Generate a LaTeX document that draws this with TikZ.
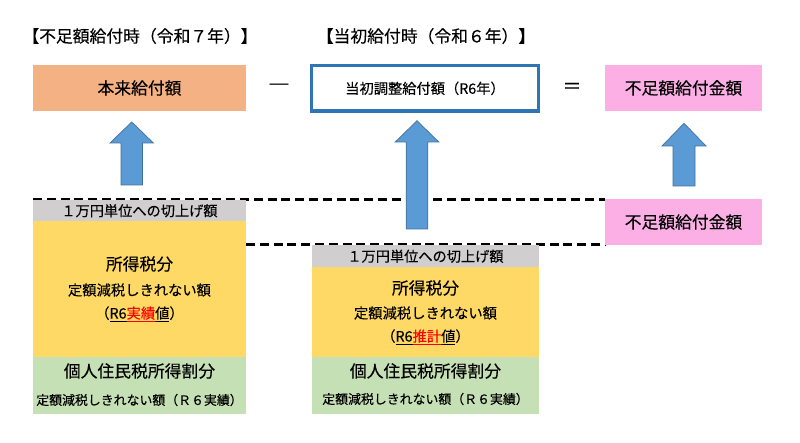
\documentclass[tikz,border=0pt]{standalone}
\usepackage{fontspec}
\setmainfont{Noto Sans CJK JP}[BoldFont=*,BoldFeatures={FakeBold=0.2}]
\definecolor{cOrange}{HTML}{F4B183}
\definecolor{cPink}{HTML}{FBAFE4}
\definecolor{cBlue}{HTML}{2E75B6}
\definecolor{cArrow}{HTML}{5B9BD5}
\definecolor{cArrowEdge}{HTML}{41719C}
\definecolor{cGray}{HTML}{D0CECE}
\definecolor{cYellow}{HTML}{FFD966}
\definecolor{cGreen}{HTML}{C5E0B4}
\newcommand{\fs}[1]{\fontsize{#1}{#1}\selectfont}
\newcommand{\myul}[1]{$\underline{\hbox{\vphantom{実}#1}}$}
\tikzset{
  x=1pt,y=-1pt,
  every node/.append style={font=\bfseries},
  boxshape/.style={draw=none,inner sep=0,outer sep=0,anchor=north west,align=center,text=black},
  txt/.style={inner sep=0,outer sep=0,text=black,align=center},
  dashline/.style={draw=black,line width=2.5pt,dash pattern=on 9pt off 4.8pt},
  blockarrow/.style={fill=cArrow,draw=cArrowEdge,line width=.7pt,line join=miter},
}
\newcommand{\blockup}[6]{% cx, tip, headbase, bottom, halfhead, halfshaft
  \path[blockarrow] (#1,#2) -- (#1+#5,#3) -- (#1+#6,#3) -- (#1+#6,#4) -- (#1-#6,#4) -- (#1-#6,#3) -- (#1-#5,#3) -- cycle;}
\begin{document}
\begin{tikzpicture}
\useasboundingbox (0,0) rectangle (800,443);
\fill[white] (0,0) rectangle (800,443);
% headings
\node[txt] (h1) at (140,36) {\fs{16.8}【不足額給付時（令和７年）】};
\node[txt] (h2) at (426,36) {\fs{16.8}【当初給付時（令和６年）】};
% top row
\node[boxshape,fill=cOrange,minimum width=213pt,minimum height=46pt] (base) at (33,65) {\fs{16.8}本来給付額};
\node[boxshape,fill=white,draw=cBlue,line width=3.3pt,minimum width=226.6pt,minimum height=45.3pt] (init) at (311.7,65.7) {\fs{14.25}当初調整給付額（R6年）};
\node[boxshape,fill=cPink,minimum width=157pt,minimum height=46pt] (short) at (605,65) {\fs{16.8}不足額給付金額};
\node[txt] (minus) at (279,88) {\fs{22}―};
\node[txt] (eq) at (572,88) {\fs{19}＝};
% dashed lines
\coordinate (d1a) at (33,199.3); \coordinate (d1b) at (605,199.3);
\coordinate (d2a) at (246,244.3); \coordinate (d2b) at (605,244.3);
\draw[dashline] (d1a) -- (d1b);
\draw[dashline] (d2a) -- (d2b);
% left stack
\node[boxshape,fill=cGray,minimum width=213pt,minimum height=20.5pt] (lg) at (33,200.5) {\fs{14.2}１万円単位への切上げ額};
\node[boxshape,fill=cYellow,minimum width=213pt,minimum height=136pt] (ly) at (33,221) {};
\node[txt] (ly1) at (139.5,264) {\fs{16.8}所得税分};
\node[txt] (ly2) at (139.5,290) {\fs{14.3}定額減税しきれない額};
\node[txt] (ly3) at (139.5,314) {\fs{14.3}（\myul{R6}\textcolor{red}{\myul{実績}}\myul{値}）};
\node[boxshape,fill=cGreen,minimum width=213pt,minimum height=57pt] (lgr) at (33,357) {};
\node[txt] (lgr1) at (139.5,371) {\fs{16.8}個人住民税所得割分};
\node[txt] (lgr2) at (139.5,400) {\fs{12.9}定額減税しきれない額（Ｒ６実績）};
% middle stack
\node[boxshape,fill=cGray,minimum width=227pt,minimum height=21.5pt] (mg) at (312,245.5) {\fs{14.2}１万円単位への切上げ額};
\node[boxshape,fill=cYellow,minimum width=227pt,minimum height=90pt] (my) at (312,267) {};
\node[txt] (my1) at (425.5,288) {\fs{16.8}所得税分};
\node[txt] (my2) at (425.5,313) {\fs{14.3}定額減税しきれない額};
\node[txt] (my3) at (425.5,337) {\fs{14.3}（\myul{R6}\textcolor{red}{\myul{推計}}\myul{値}）};
\node[boxshape,fill=cGreen,minimum width=227pt,minimum height=57pt] (mgr) at (312,357) {};
\node[txt] (mgr1) at (425.5,371) {\fs{16.8}個人住民税所得割分};
\node[txt] (mgr2) at (425.5,399) {\fs{12.9}定額減税しきれない額（Ｒ６実績）};
% right lower box
\node[boxshape,fill=cPink,minimum width=157pt,minimum height=46pt] (short2) at (605,199) {\fs{16.8}不足額給付金額};
% arrows
\blockup{131.7}{122}{143}{185}{21.7}{10.7}
\blockup{417}{120.7}{142}{229}{21.8}{10.8}
\blockup{684}{123.3}{146}{186}{22}{11}
\end{tikzpicture}
\end{document}
